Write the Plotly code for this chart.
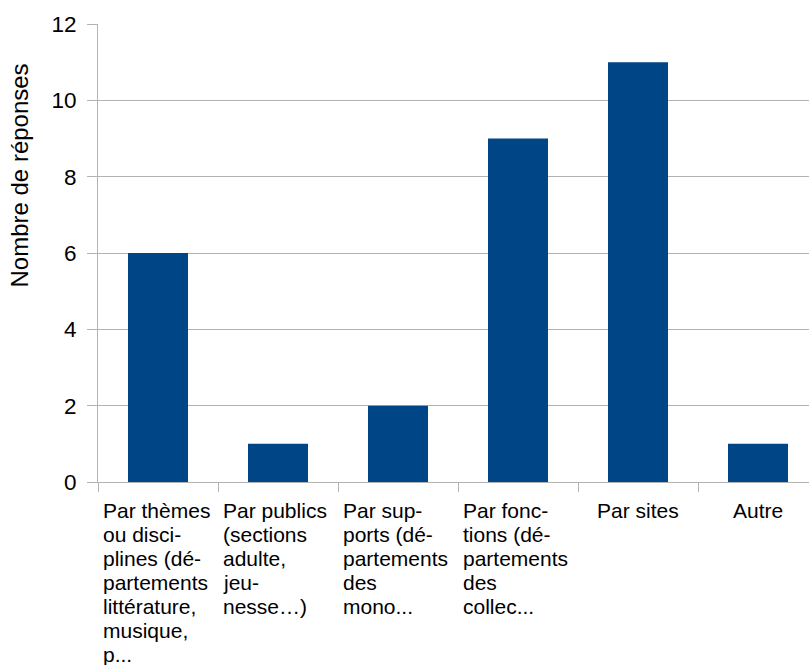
import plotly.graph_objects as go

# Survey answers: how collections are organised
categories = [
    "Par thèmes ou disciplines",
    "Par publics",
    "Par supports",
    "Par fonctions",
    "Par sites",
    "Autre",
]
# wrapped category labels, one list of lines per category
category_lines = [
    ["Par thèmes", "ou disci-", "plines (dé-", "partements", "littérature,", "musique,", "p..."],
    ["Par publics", "(sections", "adulte,", "jeu-", "nesse…)"],
    ["Par sup-", "ports (dé-", "partements", "des", "mono..."],
    ["Par fonc-", "tions (dé-", "partements", "des", "collec..."],
    ["Par sites"],
    ["Autre"],
]
responses = [6, 1, 2, 9, 11, 1]
y_ticks = [0, 2, 4, 6, 8, 10, 12]

W, H = 809, 665
L, R, T, B = 98, 0, 24, 183
plot_h = H - T - B
plot_w = W - L - R
SLOT = 120            # pixel width of one category slot
LINE_H = 24           # label line spacing
LABEL_TOP = 497       # top of the label block
WRAP_HALF = 57        # half of the wrapped label column width (incl. padding)

FONT = "Liberation Sans, Arial, sans-serif"
GRID = "#b3b3b3"


def paper_y(px):
    return (T + plot_h - px) / plot_h


fig = go.Figure(
    go.Bar(
        x=categories,
        y=responses,
        width=0.5,
        marker=dict(color="#004586", line=dict(width=0)),
        hoverinfo="x+y",
    )
)

# category labels: wrapped labels are left-aligned in a column, single lines centred
for cat, lines in zip(categories, category_lines):
    wrapped = len(lines) > 1
    for i, line in enumerate(lines):
        fig.add_annotation(
            x=cat, xref="x",
            y=paper_y(LABEL_TOP + LINE_H * i), yref="paper",
            text=line, showarrow=False,
            xanchor="left" if wrapped else "center",
            xshift=-WRAP_HALF if wrapped else 0,
            yanchor="top",
            font=dict(family=FONT, size=21, color="#000000"),
        )

# vertical axis title
fig.add_annotation(
    x=(19 - L) / plot_w, xref="paper",
    y=paper_y(175.5), yref="paper",
    text="Nombre de réponses", textangle=-90, showarrow=False,
    xanchor="center", yanchor="middle",
    font=dict(family=FONT, size=24, color="#000000"),
)

fig.update_xaxes(
    type="category",
    range=[-0.5, -0.5 + plot_w / SLOT],
    showticklabels=False,
    ticks="outside", tickson="boundaries", ticklen=9, tickcolor=GRID, tickwidth=1,
    showline=True, linecolor=GRID, linewidth=1,
    showgrid=False, zeroline=False,
)
fig.update_yaxes(
    range=[0, 12],
    tickvals=y_ticks,
    tickfont=dict(family=FONT, size=22.5, color="#000000"),
    ticks="outside", ticklen=10, tickcolor=GRID, tickwidth=1,
    ticklabelstandoff=6,
    showline=True, linecolor=GRID, linewidth=1,
    showgrid=True, gridcolor=GRID, gridwidth=1,
    zeroline=False,
)
fig.update_layout(
    width=W, height=H,
    margin=dict(l=L, r=R, t=T, b=B, autoexpand=False),
    paper_bgcolor="#ffffff", plot_bgcolor="#ffffff",
    showlegend=False, bargap=0.5,
)

fig.write_html("out.html")
